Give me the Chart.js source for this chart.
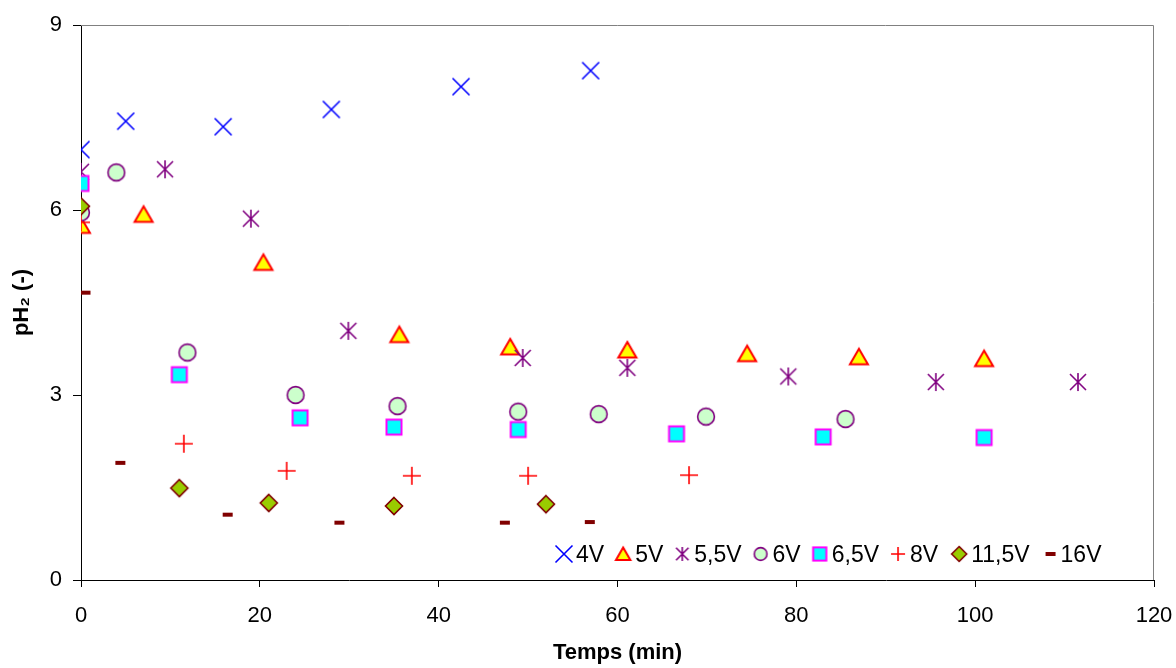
<!DOCTYPE html>
<html>
<head>
<meta charset="utf-8">
<script src="https://cdn.jsdelivr.net/npm/chart.js@4"></script>
<style>
html,body{margin:0;padding:0;background:#fff;}
#wrap{width:1176px;height:668px;}
</style>
</head>
<body>
<div id="wrap"><canvas id="c" width="1176" height="668"></canvas></div>
<script>
// ---- data ----
const seriesLabels = ['4V', '5V', '5,5V', '6V', '6,5V', '8V', '11,5V', '16V'];
const xTicks = [0, 20, 40, 60, 80, 100, 120];
const yTicks = [0, 3, 6, 9];

const t4V  = [0, 5.0, 15.9, 28.0, 42.5, 57.0];
const ph4V = [6.98, 7.44, 7.35, 7.63, 8.00, 8.26];

const t5V  = [0, 7.0, 20.4, 35.6, 48.0, 61.1, 74.5, 87.0, 101.0];
const ph5V = [5.75, 5.93, 5.15, 3.98, 3.78, 3.73, 3.67, 3.62, 3.59];

const t55V  = [0, 9.4, 19.0, 29.9, 49.4, 61.1, 79.1, 95.6, 111.5];
const ph55V = [6.62, 6.66, 5.86, 4.04, 3.60, 3.44, 3.30, 3.21, 3.21];

const t6V  = [0, 3.95, 11.9, 24.0, 35.4, 48.9, 57.9, 69.9, 85.5];
const ph6V = [5.96, 6.61, 3.69, 3.00, 2.82, 2.73, 2.69, 2.65, 2.61];

const t65V  = [0, 11.0, 24.5, 35.0, 48.9, 66.6, 83.0, 101.0];
const ph65V = [6.43, 3.33, 2.63, 2.48, 2.44, 2.37, 2.32, 2.31];

const t8V  = [0, 11.5, 23.0, 37.0, 50.0, 68.0];
const ph8V = [5.80, 2.21, 1.77, 1.69, 1.69, 1.70];

const t115V  = [0, 11.0, 21.0, 35.0, 52.0];
const ph115V = [6.06, 1.49, 1.25, 1.20, 1.23];

const t16V  = [0.5, 4.4, 16.4, 28.9, 47.4, 56.9];
const ph16V = [4.66, 1.90, 1.06, 0.93, 0.93, 0.94];

const seriesT  = [t4V, t5V, t55V, t6V, t65V, t8V, t115V, t16V];
const seriesPH = [ph4V, ph5V, ph55V, ph6V, ph65V, ph8V, ph115V, ph16V];

// ---- marker drawing ----
const markerKinds = ['x', 'tri', 'ast', 'circ', 'sq', 'plus', 'dia', 'dash'];
const legendScale = [1, 0.8, 0.78, 0.76, 0.88, 0.78, 0.88, 1];

function markerCanvas(kind, k) {
  const c = document.createElement('canvas');
  c.width = 26; c.height = 26;
  const g = c.getContext('2d');
  const m = 13;
  g.lineJoin = 'miter';
  g.lineCap = 'butt';
  switch (kind) {
    case 'x': {
      const d = 8.5 * k;
      g.strokeStyle = '#0000FF'; g.lineWidth = 1.6;
      g.beginPath();
      g.moveTo(m - d, m - d); g.lineTo(m + d, m + d);
      g.moveTo(m + d, m - d); g.lineTo(m - d, m + d);
      g.stroke();
      break;
    }
    case 'tri': {
      g.beginPath();
      g.moveTo(m, m - 8 * k);
      g.lineTo(m + 9 * k, m + 7.5 * k);
      g.lineTo(m - 9 * k, m + 7.5 * k);
      g.closePath();
      g.fillStyle = '#FFFF00'; g.fill();
      g.strokeStyle = '#FF0000'; g.lineWidth = 2; g.stroke();
      break;
    }
    case 'ast': {
      const d = 8 * k, v = 9 * k;
      g.strokeStyle = '#800080'; g.lineWidth = 1.6;
      g.beginPath();
      g.moveTo(m - d, m - d); g.lineTo(m + d, m + d);
      g.moveTo(m + d, m - d); g.lineTo(m - d, m + d);
      g.moveTo(m, m - v); g.lineTo(m, m + v);
      g.stroke();
      break;
    }
    case 'circ': {
      g.beginPath();
      g.arc(m, m, 8.4 * k, 0, Math.PI * 2);
      g.fillStyle = '#CCFFCC'; g.fill();
      g.strokeStyle = '#800080'; g.lineWidth = 1.6; g.stroke();
      break;
    }
    case 'sq': {
      const h = 7.5 * k;
      g.fillStyle = '#00FFFF';
      g.fillRect(m - h, m - h, 2 * h, 2 * h);
      g.strokeStyle = '#FF00FF'; g.lineWidth = 2;
      g.strokeRect(m - h, m - h, 2 * h, 2 * h);
      break;
    }
    case 'plus': {
      const d = 9 * k;
      g.strokeStyle = '#FF0000'; g.lineWidth = 1.6;
      g.beginPath();
      g.moveTo(m - d, m); g.lineTo(m + d, m);
      g.moveTo(m, m - d); g.lineTo(m, m + d);
      g.stroke();
      break;
    }
    case 'dia': {
      const d = 8.5 * k;
      g.beginPath();
      g.moveTo(m, m - d); g.lineTo(m + d, m); g.lineTo(m, m + d); g.lineTo(m - d, m);
      g.closePath();
      g.fillStyle = '#99CC00'; g.fill();
      g.strokeStyle = '#800000'; g.lineWidth = 1.6; g.stroke();
      break;
    }
    case 'dash': {
      g.fillStyle = '#800000';
      g.fillRect(m - 5 * k, m - 2, 10 * k, 4);
      break;
    }
  }
  return c;
}

const plotMarkers = markerKinds.map(k => markerCanvas(k, 1));
const legendMarkers = markerKinds.map((k, i) => markerCanvas(k, legendScale[i]));

const FONT = '"Liberation Sans", Arial, Helvetica, sans-serif';

const datasets = seriesLabels.map((lab, i) => ({
  label: lab,
  data: seriesT[i].map((t, j) => ({x: t, y: seriesPH[i][j]})),
  pointStyle: plotMarkers[i],
  pointRadius: 9,
  pointHoverRadius: 9,
  showLine: false,
  order: seriesLabels.length - i
}));

// legend drawn inside the plot area + grey frame on top/right
const extras = {
  id: 'extras',
  beforeDatasetsDraw(chart) {
    const {ctx, chartArea: a} = chart;
    ctx.save();
    ctx.strokeStyle = '#808080';
    ctx.lineWidth = 1;
    const top = Math.round(a.top) + 0.5;
    const right = Math.round(a.right) - 0.5;
    ctx.beginPath();
    ctx.moveTo(a.left, top);
    ctx.lineTo(right, top);
    ctx.lineTo(right, a.bottom);
    ctx.stroke();
    ctx.restore();
  },
  afterDraw(chart) {
    const ctx = chart.ctx;
    ctx.save();
    ctx.font = '23px ' + FONT;
    ctx.fillStyle = '#000';
    ctx.textBaseline = 'alphabetic';
    ctx.textAlign = 'left';
    let mx = 564;
    const my = 554;
    seriesLabels.forEach((lab, i) => {
      const img = legendMarkers[i];
      ctx.drawImage(img, mx - img.width / 2, my - img.height / 2);
      const tx = mx + (i === seriesLabels.length - 1 ? 10 : 12);
      ctx.fillText(lab, tx, 561.5);
      mx = tx + ctx.measureText(lab).width + (i >= 5 ? 21 : 19);
    });
    ctx.restore();
  }
};

new Chart(document.getElementById('c'), {
  type: 'scatter',
  data: {datasets},
  plugins: [extras],
  options: {
    responsive: false,
    animation: false,
    events: [],
    layout: {padding: {left: 0, top: 25, right: 22, bottom: 0}},
    plugins: {legend: {display: false}, tooltip: {enabled: false}},
    scales: {
      x: {
        type: 'linear',
        min: 0, max: 120,
        afterBuildTicks: s => { s.ticks = xTicks.map(v => ({value: v})); },
        afterFit: s => { s.height = 88; s.paddingLeft = 0; s.paddingRight = 0; },
        ticks: {color: '#000', font: {family: FONT, size: 22}, padding: 16, maxRotation: 0},
        grid: {display: true, drawOnChartArea: false, drawTicks: true, tickLength: 7, tickColor: '#000', tickWidth: 1},
        border: {display: true, color: '#000', width: 1},
        title: {display: true, text: 'Temps (min)', color: '#000', font: {family: FONT, size: 22, weight: 'bold'}, padding: {top: 0, bottom: 2}}
      },
      y: {
        type: 'linear',
        min: 0, max: 9,
        afterBuildTicks: s => { s.ticks = yTicks.map(v => ({value: v})); },
        afterFit: s => { s.width = 81; s.paddingTop = 0; s.paddingBottom = 0; },
        ticks: {color: '#000', font: {family: FONT, size: 22}, padding: 11},
        grid: {display: true, drawOnChartArea: false, drawTicks: true, tickLength: 8, tickColor: '#000', tickWidth: 1},
        border: {display: true, color: '#000', width: 1},
        title: {display: true, text: 'pH\u2082 (-)', color: '#000', font: {family: FONT, size: 22, weight: 'bold'}, padding: {top: 9, bottom: 0}}
      }
    }
  }
});
</script>
</body>
</html>
